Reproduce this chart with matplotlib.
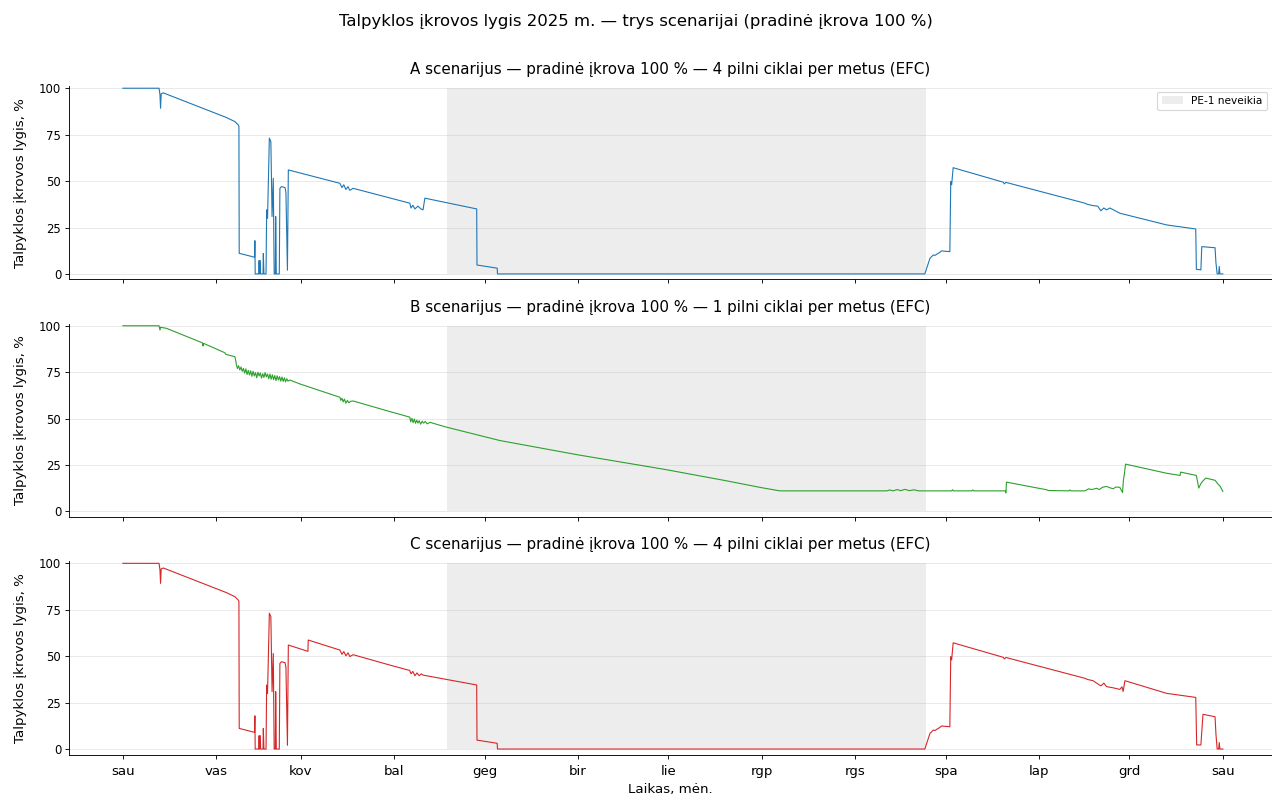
import pandas as pd
import matplotlib
matplotlib.use('Agg')
import matplotlib.pyplot as plt

# Įkrovos lygis (%) pagal dieną nuo 2025-01-01
a_taskai = [
    (0, 100), (12.0, 100), (12.3, 96.5), (12.5, 89.2), (12.7, 97.0), (13.4, 97.5),
    (34.4, 84.2), (37.2, 82.0), (38.3, 80.2), (38.5, 79.5), (38.6, 11.1), (43.7, 9.0),
    (43.8, 17.9), (43.9, 0), (45.1, 0), (45.2, 7.2), (45.3, 0), (45.6, 7.2), (45.7, 0),
    (46.5, 0), (46.6, 11.0), (46.8, 0), (47.5, 0), (47.7, 34.5), (48.0, 30.0),
    (48.6, 73.1), (49.1, 71.3), (49.5, 30.9), (49.9, 51.5), (50.2, 0), (50.6, 0),
    (50.7, 30.9), (50.9, 0), (51.9, 0), (52.1, 46.1), (52.6, 47.0), (53.8, 46.5),
    (54.1, 44.0), (54.6, 2.0), (54.9, 56.0),
    (72.0, 48.8), (72.7, 46.5), (73.3, 48.0), (74.0, 45.5), (74.7, 47.0), (75.3, 45.0),
    (76.4, 46.1), (95.2, 38.1), (95.6, 35.5), (96.2, 37.0), (96.9, 35.0), (97.9, 36.5),
    (98.9, 35.0), (99.6, 34.5), (100.2, 40.8), (117.4, 35.0), (117.5, 4.8),
    (124.2, 3.1), (124.3, 0), (266.1, 0), (267.8, 8.4), (268.9, 10.2), (269.5, 10.0),
    (270.5, 11.1), (271.0, 11.5), (271.6, 12.4), (274.4, 12.0), (274.7, 49.7),
    (275.0, 48.0), (275.5, 57.2), (292.1, 49.4), (292.5, 48.5), (293.0, 49.3),
    (319.2, 38.1), (320.0, 37.5), (321.9, 36.8), (323.5, 36.5), (324.5, 34.0),
    (325.5, 35.5), (326.4, 34.5), (327.5, 35.5), (330.8, 32.7), (346.3, 26.4),
    (356.0, 24.2), (356.2, 2.5), (357.7, 2.2), (358.0, 14.7), (362.4, 14.1),
    (362.7, 6.0), (363.1, 0), (363.6, 0), (363.8, 4.0), (364.0, 0), (365.0, 0),
]

b_taskai = [
    (0, 100), (12.0, 100), (12.3, 97.7), (12.5, 99.2), (14.5, 98.6), (26.4, 90.8),
    (26.6, 89.1), (26.8, 90.5), (33.8, 85.5), (34.2, 84.6), (37.2, 83.3), (37.7, 78.9),
    (38.0, 77.0), (38.4, 78.5), (38.8, 76.2), (39.2, 77.8), (39.6, 75.5), (40.0, 77.0),
    (40.4, 74.5), (40.8, 76.8), (41.2, 73.8), (41.6, 76.0), (42.0, 73.5), (42.4, 75.8),
    (42.8, 72.8), (43.2, 75.5), (43.6, 73.0), (44.0, 74.8), (44.4, 72.0), (44.8, 75.0),
    (45.2, 73.0), (45.6, 74.6), (46.0, 71.8), (46.4, 74.2), (46.8, 72.2), (47.2, 74.8),
    (47.6, 72.5), (48.0, 74.0), (48.4, 71.5), (48.8, 74.0), (49.2, 71.2), (49.6, 73.6),
    (50.0, 71.0), (50.4, 73.2), (50.8, 70.5), (51.2, 73.0), (51.6, 70.8), (52.0, 72.6),
    (52.4, 70.2), (52.8, 72.4), (53.2, 70.0), (53.6, 72.0), (54.0, 69.8), (54.4, 71.5),
    (54.8, 70.2), (55.4, 70.8), (58.7, 68.7), (72.0, 61.5), (72.3, 59.8), (72.7, 61.0),
    (73.1, 59.0), (73.5, 60.5), (74.0, 58.3), (74.5, 59.8), (75.0, 58.5), (75.5, 59.3),
    (76.4, 59.5), (88.6, 53.8), (95.2, 50.8), (95.5, 48.3), (95.9, 50.2), (96.3, 47.8),
    (96.7, 49.8), (97.1, 47.5), (97.5, 49.2), (97.9, 47.6), (98.3, 48.9), (98.8, 47.0),
    (99.3, 48.6), (99.8, 47.6), (100.3, 48.5), (101.0, 47.2), (101.9, 48.0),
    (107.4, 45.4), (125.1, 38.2), (151.0, 30.5), (180.0, 22.6), (200.0, 16.6),
    (212.0, 12.8), (218.0, 11.1), (253.5, 11.1), (254.5, 11.6), (255.5, 11.1),
    (257.0, 11.8), (258.0, 11.2), (259.5, 11.9), (261.0, 11.2), (262.5, 11.7),
    (264.0, 11.1), (275.0, 11.1), (275.3, 11.7), (275.6, 11.1), (281.7, 11.1),
    (282.0, 11.6), (282.3, 11.1), (292.8, 11.1), (293.0, 10.0), (293.2, 15.8),
    (306.5, 11.7), (307.0, 11.3), (314.0, 11.1), (314.3, 11.6), (314.6, 11.1),
    (319.2, 11.1), (320.5, 12.2), (321.5, 11.8), (323.1, 12.5), (324.0, 11.8),
    (325.0, 13.0), (326.4, 13.5), (327.5, 12.8), (328.6, 12.2), (329.5, 13.2),
    (330.8, 13.0), (331.7, 10.2), (332.0, 17.0), (332.3, 20.0), (332.7, 25.5),
    (346.3, 20.6), (350.8, 19.4), (351.0, 21.2), (356.2, 19.4), (356.6, 16.0),
    (357.0, 12.6), (357.7, 15.0), (358.2, 16.1), (359.3, 18.0), (362.4, 16.8),
    (363.5, 14.5), (364.0, 13.8), (365.0, 10.8),
]

c_taskai = [
    (0, 100), (12.0, 100), (12.3, 96.5), (12.5, 89.2), (12.7, 97.0), (13.4, 97.5),
    (34.4, 84.2), (37.2, 82.0), (38.3, 80.2), (38.5, 79.5), (38.6, 11.1), (43.7, 9.0),
    (43.8, 17.9), (43.9, 0), (45.1, 0), (45.2, 7.2), (45.3, 0), (45.6, 7.2), (45.7, 0),
    (46.5, 0), (46.6, 11.0), (46.8, 0), (47.5, 0), (47.7, 34.5), (48.0, 30.0),
    (48.6, 73.1), (49.1, 71.3), (49.5, 30.9), (49.9, 51.5), (50.2, 0), (50.6, 0),
    (50.7, 30.9), (50.9, 0), (51.9, 0), (52.1, 46.1), (52.6, 47.0), (53.8, 46.5),
    (54.1, 44.0), (54.6, 2.0), (54.9, 56.0),
    (61.4, 52.6), (61.5, 58.7), (72.0, 53.3), (72.7, 51.0), (73.3, 52.5), (74.0, 50.2),
    (74.7, 51.8), (75.3, 49.8), (76.4, 50.8), (88.6, 45.2), (95.2, 42.3), (95.6, 40.5),
    (96.2, 41.8), (96.9, 39.5), (97.6, 41.0), (98.3, 39.5), (99.0, 40.5), (99.6, 39.8),
    (117.4, 34.5), (117.5, 4.8), (124.2, 3.1), (124.3, 0), (266.1, 0), (267.8, 8.4),
    (268.9, 10.2), (269.5, 10.0), (270.5, 11.1), (271.0, 11.5), (271.6, 12.4),
    (274.4, 12.0), (274.7, 49.7), (275.0, 48.0), (275.5, 57.2), (292.1, 49.4),
    (292.5, 48.5), (293.0, 49.3), (319.2, 38.1), (320.0, 37.5), (321.9, 36.8),
    (324.5, 34.0), (325.5, 35.5), (326.4, 33.6), (328.5, 33.0), (330.8, 32.1),
    (331.5, 33.5), (331.9, 31.0), (332.5, 36.8), (346.3, 30.0), (356.0, 27.8),
    (356.3, 2.2), (357.7, 2.2), (358.4, 18.7), (362.4, 17.4), (362.7, 8.0),
    (363.1, 0), (363.6, 0), (363.8, 3.5), (364.0, 0), (365.0, 0),
]

scenarijai = ['A', 'B', 'C']
efc = [4, 1, 4]
spalvos = ['tab:blue', 'tab:green', 'tab:red']
menesiai = ['sau', 'vas', 'kov', 'bal', 'geg', 'bir', 'lie', 'rgp', 'rgs', 'spa',
            'lap', 'grd', 'sau']
pe1_stop = ('2025-04-18 12:00', '2025-09-24 10:00')

pradzia = pd.Timestamp('2025-01-01')


def laikas(dienos):
    return pradzia + pd.to_timedelta(list(dienos), unit='D')


fig, axes = plt.subplots(3, 1, figsize=(15.9, 9.95), dpi=80, sharex=True)
fig.subplots_adjust(left=0.0542, right=1.0, top=0.8915, bottom=0.052, hspace=0.23)
fig.suptitle('Talpyklos įkrovos lygis 2025 m. — trys scenarijai (pradinė įkrova 100 %)',
             fontsize=14.8, y=0.983)

for ax, taskai, sc, n, spalva in zip(axes, [a_taskai, b_taskai, c_taskai],
                                      scenarijai, efc, spalvos):
    dienos, lygis = zip(*taskai)
    # PE-1 prastovos laikotarpis
    ax.fill_between(pd.to_datetime(list(pe1_stop)), 0, 100, color='lightgray',
                    alpha=0.4, lw=0, label='PE-1 neveikia')
    ax.plot(laikas(dienos), lygis, color=spalva, lw=1.0)
    ax.set_title(f'{sc} scenarijus — pradinė įkrova 100 % — {n} pilni ciklai per metus (EFC)',
                 fontsize=13.6, pad=11)
    ax.set_ylabel('Talpyklos įkrovos lygis, %', fontsize=12, labelpad=11)
    ax.set_ylim(-3, 101)
    ax.set_yticks([0, 25, 50, 75, 100])
    ax.tick_params(axis='y', labelsize=10.5)
    ax.grid(axis='y', alpha=0.3)
    ax.spines['top'].set_visible(False)
    ax.spines['right'].set_visible(False)

axes[0].legend(loc='upper right', fontsize=9.5)

ticks = pd.date_range('2025-01-01', '2026-01-01', freq='MS')
axes[-1].set_xticks(ticks)
axes[-1].set_xticklabels(menesiai)
axes[-1].tick_params(axis='x', labelsize=12, pad=6)
axes[-1].set_xlim(pradzia - pd.Timedelta(days=17.9), pradzia + pd.Timedelta(days=381.3))
axes[-1].set_xlabel('Laikas, mėn.', fontsize=12, labelpad=4)

fig.savefig('out.png', dpi=80)
